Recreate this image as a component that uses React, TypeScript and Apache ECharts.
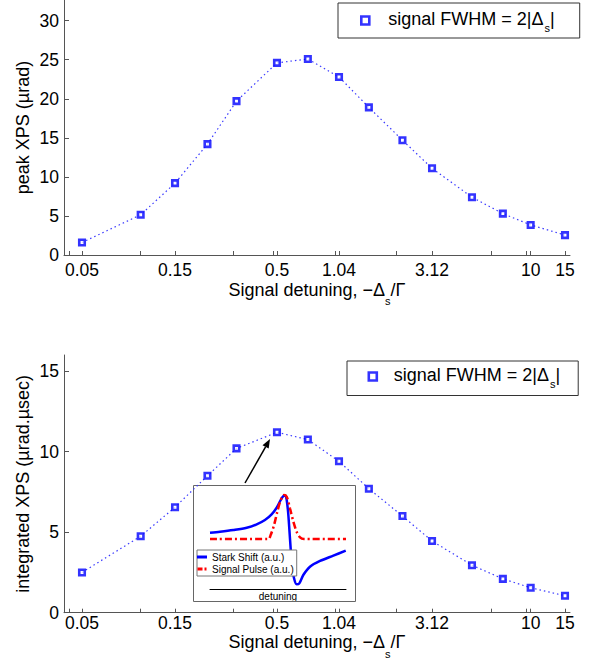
import React, { useEffect, useRef } from 'react';
import * as echarts from 'echarts';

// ---- data ----
const detuning = [0.05, 0.1, 0.15, 0.22, 0.31, 0.5, 0.72, 1.04, 1.48, 2.2, 3.12, 5, 7.2, 10, 15];
const peakXPS = [1.6, 5.15, 9.2, 14.2, 19.7, 24.6, 25.1, 22.8, 18.9, 14.7, 11.1, 7.4, 5.3, 3.85, 2.55];
const integratedXPS = [2.5, 4.75, 6.55, 8.5, 10.2, 11.2, 10.75, 9.4, 7.7, 6.0, 4.45, 2.95, 2.1, 1.55, 1.05];

const xTickValues = [0.05, 0.15, 0.5, 1.04, 3.12, 10, 15];
const xTickLabels = ['0.05', '0.15', '0.5', '1.04', '3.12', '10', '15'];
const xMinorTicks = [0.043, 0.1, 0.3, 0.478, 0.99, 2.05, 6.26, 9.5];
const topYTicks = [0, 5, 10, 15, 20, 25, 30];
const bottomYTicks = [0, 5, 10, 15];

// inset (arbitrary units)
const starkX = [0, 7.4, 17.2, 27.0, 34.3, 40.4, 45.3, 49.0, 52.0, 53.9, 55.4, 56.4, 57.4, 58.3, 59.3, 60.3, 61.8, 63.7, 65.7, 68.6, 73.5, 80.9, 90.7, 99.8];
const starkY = [56.9, 57.9, 59.6, 61.9, 65.3, 69.7, 75.4, 82.1, 89.9, 93.9, 94.3, 89.9, 78.1, 61.3, 41.1, 24.2, 10.8, 4.7, 5.7, 14.1, 22.5, 28.3, 33.7, 38.7];
const pulseX = [0, 42.9, 44.6, 47.1, 49.5, 52.0, 54.4, 56.4, 58.8, 61.3, 63.7, 66.2, 69.1, 100];
const pulseY = [50.5, 50.5, 54.5, 64.6, 78.1, 89.9, 94.9, 93.2, 81.5, 68.0, 57.9, 52.2, 50.5, 50.5];

const legendText = 'signal FWHM = 2|Δ';
const xName = 'Signal detuning, −Δ';
const topYName = 'peak XPS (µrad)';
const bottomYName = 'integrated XPS (µrad.µsec)';

const FONT = "'Liberation Sans', Arial, Helvetica, sans-serif";
const AX = '#555';
const XMIN = -1.3933;
const XMAX = 1.2017;

const lg = (v: number) => Math.log10(v);

function makeX(gridIndex: number, nameGap: number, labelMargin: number, labelLineHeight?: number) {
  return {
    type: 'value',
    gridIndex,
    min: XMIN,
    max: XMAX,
    axisLine: { show: true, onZero: false, lineStyle: { color: AX, width: 1 } },
    axisTick: {
      show: true,
      inside: true,
      length: 4,
      customValues: [...xTickValues, ...xMinorTicks].map(lg),
      lineStyle: { color: AX },
    },
    axisLabel: {
      customValues: xTickValues.map(lg),
      formatter: (v: number) => {
        const i = xTickValues.findIndex((t) => Math.abs(lg(t) - v) < 1e-6);
        return i >= 0 ? xTickLabels[i] : '';
      },
      color: '#000',
      fontSize: 17.5,
      fontFamily: FONT,
      margin: labelMargin,
      ...(labelLineHeight ? { lineHeight: labelLineHeight } : {}),
    },
    splitLine: { show: false },
    name: `{n|${xName}}{s|s}{n|/Γ}`,
    nameLocation: 'middle',
    nameGap,
    nameMoveOverlap: false,
    nameTextStyle: {
      color: '#000',
      fontFamily: FONT,
      rich: {
        n: { fontSize: 18, lineHeight: 22, verticalAlign: 'top', color: '#000', fontFamily: FONT },
        s: { fontSize: 11, lineHeight: 12, padding: [19, 0, 0, 0], color: '#000', fontFamily: FONT },
      },
    },
  };
}

function makeY(gridIndex: number, max: number, ticks: number[], name: string) {
  return {
    type: 'value',
    gridIndex,
    min: 0,
    max,
    axisLine: { show: true, onZero: false, lineStyle: { color: AX, width: 1 } },
    axisTick: { show: true, inside: true, length: 5, customValues: ticks, lineStyle: { color: AX } },
    axisLabel: { customValues: ticks, color: '#000', fontSize: 17.5, fontFamily: FONT, margin: 5 },
    splitLine: { show: false },
    name,
    nameLocation: 'middle',
    nameGap: 32,
    nameMoveOverlap: false,
    nameTextStyle: { color: '#000', fontSize: 18, fontFamily: FONT },
  };
}

function legendFor(name: string, left: number, top: number, padding: number[], gap: number) {
  return {
    show: true,
    data: [
      {
        name,
        icon: 'rect',
        itemStyle: { color: '#fff', borderColor: '#0000ff', borderWidth: 2.6 },
      },
    ],
    left,
    top,
    padding,
    itemWidth: 8,
    itemHeight: 8,
    selectedMode: false,
    borderColor: '#333',
    borderWidth: 1,
    backgroundColor: '#fff',
    formatter: () => `{g| }{n|${legendText}}{s|s}{n||}`,
    textStyle: {
      color: '#000',
      fontFamily: FONT,
      rich: {
        g: { width: gap, fontSize: 18 },
        n: { fontSize: 18, lineHeight: 22, verticalAlign: 'top', color: '#000', fontFamily: FONT },
        s: { fontSize: 11, lineHeight: 12, padding: [14, 0, 0, 1], color: '#000', fontFamily: FONT },
      },
    },
  };
}

export default function App() {
  const ref = useRef<HTMLDivElement>(null);

  useEffect(() => {
    if (!ref.current) return;
    const chart = echarts.init(ref.current, undefined, { renderer: 'svg' });

    const topPts = detuning.map((d, i) => [lg(d), peakXPS[i]]);
    const botPts = detuning.map((d, i) => [lg(d), integratedXPS[i]]);
    const starkPts = starkX.map((x, i) => [x, starkY[i]]);
    const pulsePts = pulseX.map((x, i) => [x, pulseY[i]]);

    const dotted = { type: [1.5, 3], width: 1.2, color: '#3a3aff' };
    const markerStyle = { color: '#fff', borderColor: '#0000ff', borderWidth: 2.6 };

    chart.setOption({
      animation: false,
      backgroundColor: '#fff',
      textStyle: { fontFamily: FONT },
      grid: [
        { left: 64, top: 0, width: 506, height: 255, outerBoundsMode: 'none' },
        { left: 64, top: 355, width: 506, height: 257.7, outerBoundsMode: 'none' },
        { left: 210, top: 490, width: 136, height: 99, outerBoundsMode: 'none' },
      ],
      xAxis: [
        makeX(0, 25.5, 6),
        makeX(1, 20.5, 3, 14),
        {
          type: 'value',
          gridIndex: 2,
          min: 0,
          max: 100,
          axisLine: { show: true, onZero: false, lineStyle: { color: '#000', width: 1 } },
          axisTick: { show: false },
          axisLabel: { show: false },
          splitLine: { show: false },
          name: 'detuning',
          nameLocation: 'middle',
          nameGap: 2,
          nameMoveOverlap: false,
          nameTextStyle: { color: '#000', fontSize: 10, fontFamily: FONT },
        },
      ],
      yAxis: [
        makeY(0, 32.65, topYTicks, topYName),
        makeY(1, 16, bottomYTicks, bottomYName),
        { type: 'value', gridIndex: 2, min: 0, max: 100, show: false },
      ],
      legend: [
        legendFor('top', 338, 3, [5, 25, 5, 22], 14),
        legendFor('bottom', 347, 361, [3, 18, 6.5, 20.5], 12),
        {
          show: true,
          data: [
            { name: 'Stark Shift (a.u.)', icon: 'path://M0 0H10V3H0Z' },
            { name: 'Signal Pulse (a.u.)', icon: 'path://M0 0H5V3H0Z M7 0H9V3H7Z' },
          ],
          orient: 'vertical',
          left: 197,
          top: 550,
          itemWidth: 10,
          itemHeight: 3,
          itemGap: 2,
          padding: [2, 3, 2, 0],
          selectedMode: false,
          borderColor: '#777',
          borderWidth: 1,
          backgroundColor: '#fff',
          textStyle: { color: '#000', fontSize: 10, fontFamily: FONT },
        },
      ],
      series: [
        {
          type: 'line',
          xAxisIndex: 0,
          yAxisIndex: 0,
          data: topPts,
          symbol: 'none',
          lineStyle: dotted,
          silent: true,
          z: 2,
        },
        {
          type: 'scatter',
          name: 'top',
          xAxisIndex: 0,
          yAxisIndex: 0,
          data: topPts,
          symbol: 'rect',
          symbolSize: 5.5,
          itemStyle: markerStyle,
          z: 3,
        },
        {
          type: 'line',
          xAxisIndex: 1,
          yAxisIndex: 1,
          data: botPts,
          symbol: 'none',
          lineStyle: dotted,
          silent: true,
          z: 2,
        },
        {
          type: 'scatter',
          name: 'bottom',
          xAxisIndex: 1,
          yAxisIndex: 1,
          data: botPts,
          symbol: 'rect',
          symbolSize: 5.5,
          itemStyle: markerStyle,
          z: 3,
        },
        {
          type: 'line',
          name: 'Stark Shift (a.u.)',
          xAxisIndex: 2,
          yAxisIndex: 2,
          data: starkPts,
          symbol: 'none',
          smooth: 0.3,
          itemStyle: { color: '#0000ff' },
          lineStyle: { color: '#0000ff', width: 2.5 },
          z: 3,
        },
        {
          type: 'line',
          name: 'Signal Pulse (a.u.)',
          xAxisIndex: 2,
          yAxisIndex: 2,
          data: pulsePts,
          symbol: 'none',
          smooth: 0.3,
          itemStyle: { color: '#ff0000' },
          lineStyle: { color: '#ff0000', width: 2.5, type: [7, 3, 2, 3] },
          z: 4,
        },
      ],
      graphic: {
        elements: [
          {
            type: 'rect',
            shape: { x: 193.5, y: 485.5, width: 162, height: 116 },
            style: { fill: 'none', stroke: '#666', lineWidth: 1 },
            z: 1,
          },
          {
            type: 'line',
            shape: { x1: 245, y1: 483, x2: 265.6, y2: 446.9 },
            style: { stroke: '#000', lineWidth: 1.5 },
            z: 5,
          },
          {
            type: 'polygon',
            shape: { points: [[270, 439], [268.7, 448.6], [262.5, 445.2]] },
            style: { fill: '#000' },
            z: 5,
          },
        ],
      },
    });

    return () => chart.dispose();
  }, []);

  return (
    <div
      ref={ref}
      style={{ position: 'fixed', left: 0, top: 0, width: 594, height: 661, background: '#fff' }}
    />
  );
}
